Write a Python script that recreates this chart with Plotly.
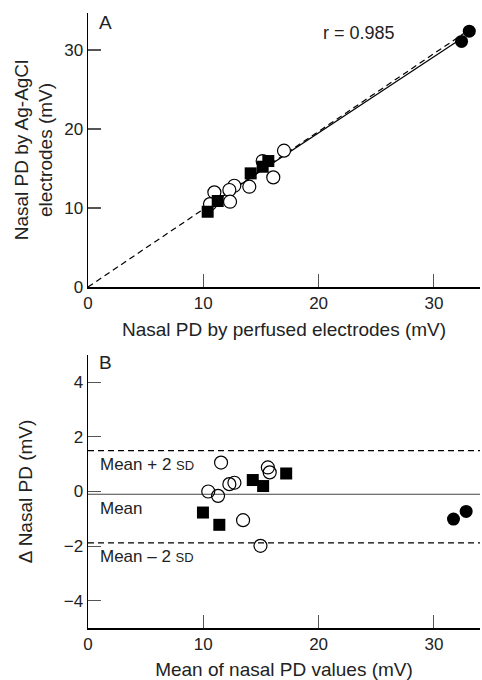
import numpy as np
import plotly.graph_objects as go

# ---------------- Panel A data ----------------
a_open_x = [17.0, 16.07, 13.99, 12.69, 12.26, 12.32, 10.96, 10.58, 15.15]
a_open_y = [17.26, 13.88, 12.7, 12.82, 12.28, 10.8, 11.99, 10.5, 15.95]
a_sq_x = [10.38, 11.25, 14.11, 15.15, 15.64]
a_sq_y = [9.53, 10.89, 14.39, 15.23, 15.95]
a_fc_x = [32.4, 33.07]
a_fc_y = [31.1, 32.4]
identity_x = [0, 33]
identity_y = [0, 32.5]
r_text = "r = 0.985"

# ---------------- Panel B data ----------------
b_open_x = [11.54, 15.6, 15.76, 12.26, 12.7, 10.43, 11.28, 13.45, 14.96]
b_open_y = [1.06, 0.88, 0.70, 0.27, 0.32, 0.0, -0.16, -1.05, -1.99]
b_sq_x = [14.29, 15.19, 17.19, 9.97, 11.39]
b_sq_y = [0.42, 0.2, 0.66, -0.77, -1.22]
b_fc_x = [31.7, 32.8]
b_fc_y = [-1.01, -0.73]
mean_diff = -0.1
upper_lim = 1.5
lower_lim = -1.88

x_ticks = [0, 10, 20, 30]
ya_ticks = [0, 10, 20, 30]
yb_ticks = [-4, -2, 0, 2, 4]
yb_ticktext = ["\u22124", "\u22122", "0", "2", "4"]

FONT = "Liberation Sans, Arial, Helvetica, sans-serif"
TXT = "#222222"

# regression line from panel A points
all_x = np.array(a_open_x + a_sq_x + a_fc_x)
all_y = np.array(a_open_y + a_sq_y + a_fc_y)
slope, icpt = np.polyfit(all_x, all_y, 1)
reg_x = [all_x.min(), a_fc_x[0]]
reg_y = [slope * v + icpt for v in reg_x]

fig = go.Figure()

# Panel A
fig.add_trace(go.Scatter(x=identity_x, y=identity_y, mode="lines",
                         line=dict(color="black", width=1.2, dash="6px,4px"),
                         xaxis="x", yaxis="y", showlegend=False))
fig.add_trace(go.Scatter(x=reg_x, y=reg_y, mode="lines",
                         line=dict(color="black", width=1.2),
                         xaxis="x", yaxis="y", showlegend=False))
fig.add_trace(go.Scatter(x=a_open_x, y=a_open_y, mode="markers",
                         marker=dict(symbol="circle", size=13, color="white",
                                     line=dict(color="black", width=1.2)),
                         xaxis="x", yaxis="y", showlegend=False))
fig.add_trace(go.Scatter(x=a_sq_x, y=a_sq_y, mode="markers",
                         marker=dict(symbol="square", size=12, color="black",
                                     line=dict(width=0)),
                         xaxis="x", yaxis="y", showlegend=False))
fig.add_trace(go.Scatter(x=a_fc_x, y=a_fc_y, mode="markers",
                         marker=dict(symbol="circle", size=13, color="black",
                                     line=dict(width=0)),
                         xaxis="x", yaxis="y", showlegend=False))

# Panel B
fig.add_trace(go.Scatter(x=b_open_x, y=b_open_y, mode="markers",
                         marker=dict(symbol="circle-open", size=13, color="black",
                                     line=dict(color="black", width=1.2)),
                         xaxis="x2", yaxis="y2", showlegend=False))
fig.add_trace(go.Scatter(x=b_sq_x, y=b_sq_y, mode="markers",
                         marker=dict(symbol="square", size=12, color="black",
                                     line=dict(width=0)),
                         xaxis="x2", yaxis="y2", showlegend=False))
fig.add_trace(go.Scatter(x=b_fc_x, y=b_fc_y, mode="markers",
                         marker=dict(symbol="circle", size=13, color="black",
                                     line=dict(width=0)),
                         xaxis="x2", yaxis="y2", showlegend=False))

shapes = []
for val, dash, col in [(mean_diff, "solid", "#444444"),
                       (upper_lim, "6px,4px", "black"),
                       (lower_lim, "6px,4px", "black")]:
    shapes.append(dict(type="line", xref="x2 domain", yref="y2",
                       x0=0, x1=1, y0=val, y1=val,
                       line=dict(color=col, width=1.2, dash=dash), layer="below"))

axis_common = dict(showgrid=False, zeroline=False, showline=True,
                   linecolor="black", linewidth=1.5, ticks="inside",
                   ticklen=13, tickwidth=1.2, tickcolor="#555555",
                   tickfont=dict(family=FONT, size=17, color=TXT),
                   automargin=False)

ann = []
ann.append(dict(text="A", xref="x domain", yref="y domain", x=0.023, y=0.967,
                xanchor="left", yanchor="middle", showarrow=False,
                font=dict(family=FONT, size=19, color=TXT)))
ann.append(dict(text="B", xref="x2 domain", yref="y2 domain", x=0.023, y=0.974,
                xanchor="left", yanchor="middle", showarrow=False,
                font=dict(family=FONT, size=19, color=TXT)))
ann.append(dict(text=r_text, xref="x", yref="y", x=23.5, y=32.15,
                xanchor="center", yanchor="middle", showarrow=False,
                font=dict(family=FONT, size=18, color=TXT)))
sd = "<span style='font-size:13px'>SD</span>"
for txt, yv in [("Mean + 2 " + sd, 1.0), ("Mean", -0.63), ("Mean \u2013 2 " + sd, -2.37)]:
    ann.append(dict(text=txt, xref="x2 domain", yref="y2", x=0.025, y=yv,
                    xanchor="left", yanchor="middle", showarrow=False,
                    font=dict(family=FONT, size=17, color=TXT)))

fig.update_layout(
    width=482, height=680,
    margin=dict(l=88, r=2, t=10, b=10),
    paper_bgcolor="white", plot_bgcolor="white",
    font=dict(family=FONT, color=TXT),
    showlegend=False,
    xaxis=dict(domain=[0, 1], range=[0, 34], tickvals=x_ticks, anchor="y",
               title=dict(text="Nasal PD by perfused electrodes (mV)",
                          font=dict(family=FONT, size=19, color=TXT), standoff=11),
               **axis_common),
    yaxis=dict(domain=[0.5803, 0.9955], range=[0, 34.7], tickvals=ya_ticks, anchor="x",
               title=dict(text="Nasal PD by Ag-AgCl<br>electrodes (mV)",
                          font=dict(family=FONT, size=19, color=TXT), standoff=6),
               **axis_common),
    xaxis2=dict(domain=[0, 1], range=[0, 34], tickvals=x_ticks, anchor="y2",
                title=dict(text="Mean of nasal PD values (mV)",
                           font=dict(family=FONT, size=19, color=TXT), standoff=11),
                **axis_common),
    yaxis2=dict(domain=[0.0636, 0.4773], range=[-5, 5], tickvals=yb_ticks,
                ticktext=yb_ticktext, anchor="x2",
                title=dict(text="\u0394 Nasal PD (mV)",
                           font=dict(family=FONT, size=19, color=TXT), standoff=26),
                **axis_common),
    shapes=shapes,
    annotations=ann,
)

fig.write_html("out.html", config={"displayModeBar": False, "staticPlot": True},
               post_script="document.body.style.margin='0';document.body.style.overflow='hidden';")
